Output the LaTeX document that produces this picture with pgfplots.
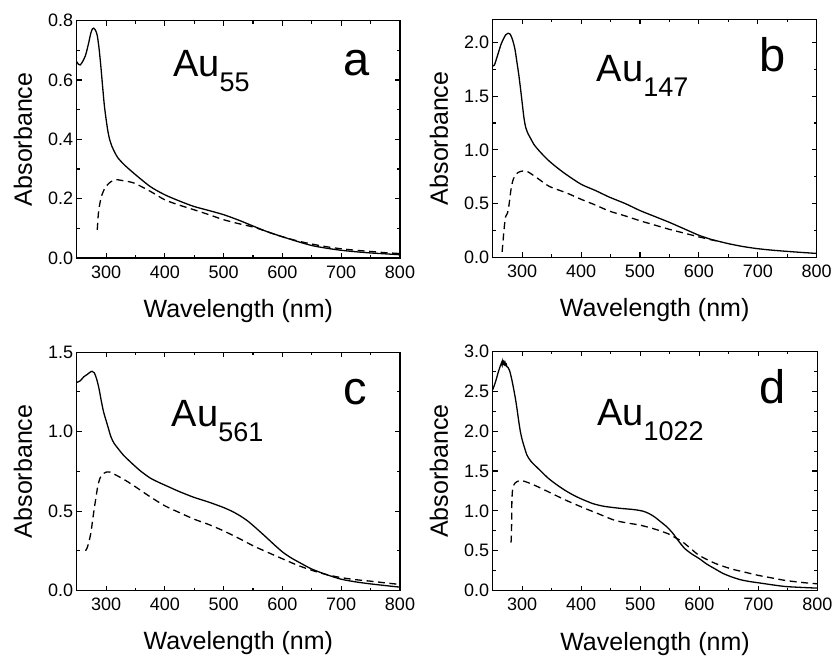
\documentclass[border=0pt]{standalone}
\usepackage{pgfplots}
\pgfplotsset{compat=1.18}
\usepackage{fontspec}
\setmainfont{Liberation Sans}

% tick numbers in the text font
\pgfkeys{/pgf/number format/assume math mode=true}

\pgfplotsset{
  uvpanel/.style={
    scale only axis, anchor=south west,
    xmin=250, xmax=800, ymin=0,
    xtick={300,400,...,800},
    minor x tick num=1, minor y tick num=1,
    xtick pos=both, ytick pos=both,
    xticklabel pos=lower, yticklabel pos=left,
    axis line style={line width=1.3pt},
    every tick/.style={black, line width=1.1pt},
    major tick length=5pt, minor tick length=3pt,
    tick align=inside,
    tick label style={font=\fontsize{18}{18}\selectfont},
    xticklabel style={yshift=-4pt},
    yticklabel style={/pgf/number format/fixed, /pgf/number format/fixed zerofill,
      /pgf/number format/precision=1},
    xlabel={Wavelength (nm)},
    ylabel={Absorbance},
    xlabel style={at={(axis description cs:0.5,-0.249)}, anchor=base,
      font=\fontsize{25}{25}\selectfont, inner sep=0pt},
    ylabel style={at={(axis description cs:-0.166,0.5)}, anchor=center,
      font=\fontsize{25}{25}\selectfont, inner sep=0pt},
    no markers,
    cycle list={{black,solid},{black,dash pattern=on 7pt off 4.5pt}},
    every axis plot/.append style={line width=1.3pt, smooth, tension=0.45},
  },
}
\newcommand{\cluster}[1]{Au\raisebox{-15pt}{\fontsize{27}{27}\selectfont #1}}
\newcommand{\panelfont}{\fontsize{38}{38}\selectfont}
\newcommand{\letterfont}{\fontsize{47}{47}\selectfont}

\begin{document}
\begin{tikzpicture}

% (a) Au55
\begin{axis}[uvpanel, at={(76.7pt,398pt)}, width=323.3pt, height=237.3pt,
  ymax=0.8, ytick={0,0.2,...,0.8}]
\addplot coordinates {(250,0.662)(253,0.653)(256,0.651)(260,0.662)(265,0.683)(270,0.722)(274,0.758)(277,0.773)(279,0.775)(282,0.768)(285,0.750)(288,0.707)(291,0.648)(294,0.580)(297,0.515)(300,0.468)(303,0.428)(306,0.400)(310,0.376)(315,0.355)(320,0.338)(330,0.316)(347,0.286)(375,0.241)(400,0.213)(425,0.192)(449,0.174)(475,0.160)(500,0.146)(525,0.128)(551,0.107)(575,0.088)(601,0.071)(625,0.056)(650,0.042)(675,0.033)(700,0.026)(725,0.021)(750,0.017)(775,0.014)(800,0.011)};
\addplot coordinates {(285,0.095)(287,0.152)(290,0.190)(293,0.213)(297,0.232)(302,0.246)(308,0.257)(316,0.264)(325,0.262)(347,0.253)(375,0.225)(400,0.196)(425,0.178)(449,0.163)(475,0.146)(500,0.129)(525,0.116)(551,0.104)(575,0.088)(601,0.071)(625,0.058)(650,0.047)(675,0.038)(700,0.031)(725,0.026)(750,0.022)(775,0.018)(800,0.015)};
\node[anchor=base west, inner sep=0pt, font=\panelfont] at (rel axis cs:0.298,0.763) {\cluster{55}};
\node[anchor=base, inner sep=0pt, font=\letterfont] at (rel axis cs:0.866,0.771) {a};
\end{axis}

% (b) Au147
\begin{axis}[uvpanel, at={(492.7pt,398.7pt)}, width=324pt, height=238pt,
  ymax=2.215, ytick={0,0.5,...,2.0}]
\addplot coordinates {(250,1.78)(253,1.79)(256,1.84)(260,1.91)(264,1.98)(268,2.03)(272,2.07)(276,2.085)(279,2.08)(282,2.05)(285,2.00)(288,1.93)(291,1.82)(294,1.71)(297,1.58)(300,1.44)(303,1.30)(306,1.21)(310,1.15)(315,1.10)(320,1.05)(329,0.99)(343,0.91)(358,0.84)(375,0.77)(400,0.68)(425,0.62)(448,0.56)(475,0.50)(500,0.435)(525,0.38)(550,0.325)(575,0.265)(600,0.205)(620,0.168)(635,0.147)(650,0.127)(675,0.10)(700,0.08)(725,0.066)(750,0.055)(775,0.045)(800,0.036)};
\addplot coordinates {(266,0.05)(268,0.18)(270,0.30)(272,0.38)(275,0.41)(278,0.50)(281,0.63)(284,0.71)(287,0.75)(292,0.785)(298,0.80)(304,0.805)(310,0.795)(325,0.74)(346,0.66)(375,0.60)(400,0.54)(425,0.485)(448,0.43)(475,0.385)(500,0.34)(525,0.30)(550,0.26)(575,0.225)(600,0.19)(620,0.164)(638,0.143)};
\node[anchor=base west, inner sep=0pt, font=\panelfont] at (rel axis cs:0.321,0.738) {\cluster{147}};
\node[anchor=base, inner sep=0pt, font=\letterfont] at (rel axis cs:0.864,0.78) {b};
\end{axis}

% (c) Au561
\begin{axis}[uvpanel, at={(76.7pt,65.5pt)}, width=323.3pt, height=238.3pt,
  ymax=1.5, ytick={0,0.5,...,1.5}]
\addplot coordinates {(250,1.31)(256,1.32)(262,1.345)(268,1.36)(273,1.375)(276,1.38)(280,1.37)(284,1.33)(288,1.27)(292,1.19)(296,1.12)(300,1.07)(304,1.02)(308,0.97)(313,0.93)(319,0.90)(330,0.85)(347,0.79)(360,0.748)(375,0.708)(390,0.680)(405,0.655)(425,0.622)(449,0.587)(475,0.556)(500,0.522)(515,0.497)(528,0.47)(540,0.44)(551,0.406)(562,0.37)(573,0.333)(587,0.285)(601,0.240)(615,0.205)(630,0.174)(650,0.135)(675,0.10)(700,0.071)(725,0.054)(749,0.042)(775,0.031)(800,0.021)};
\addplot coordinates {(265,0.25)(268,0.27)(271,0.31)(274,0.36)(277,0.44)(280,0.52)(283,0.59)(286,0.66)(290,0.71)(295,0.735)(300,0.745)(307,0.745)(315,0.73)(330,0.70)(347,0.66)(375,0.59)(400,0.533)(425,0.49)(449,0.45)(475,0.415)(500,0.375)(525,0.33)(551,0.28)(575,0.24)(601,0.198)(625,0.16)(650,0.127)(675,0.10)(700,0.081)(725,0.068)(749,0.059)(775,0.048)(800,0.038)};
\node[anchor=base west, inner sep=0pt, font=\panelfont] at (rel axis cs:0.294,0.689) {\cluster{561}};
\node[anchor=base, inner sep=0pt, font=\letterfont] at (rel axis cs:0.863,0.78) {c};
\end{axis}

% (d) Au1022
\begin{axis}[uvpanel, at={(492.7pt,65.5pt)}, width=324.6pt, height=239pt,
  ymax=3.0, ytick={0,0.5,...,3.0}]
\addplot coordinates {(250,2.52)(253,2.58)(256,2.65)(259,2.73)(262,2.80)(264,2.84)(265,2.86)(266,2.83)(267,2.88)(268,2.85)(269,2.87)(270,2.84)(271,2.86)(272,2.83)(273,2.84)(274,2.81)(276,2.80)(279,2.75)(282,2.66)(285,2.55)(288,2.43)(291,2.29)(294,2.13)(297,1.99)(300,1.89)(304,1.79)(308,1.70)(315,1.62)(330,1.51)(344,1.41)(358,1.33)(372,1.26)(386,1.20)(400,1.15)(420,1.09)(440,1.055)(468,1.03)(490,1.015)(505,0.995)(515,0.965)(525,0.92)(535,0.86)(545,0.80)(555,0.72)(565,0.62)(575,0.53)(587,0.46)(600,0.40)(613,0.33)(627,0.27)(640,0.215)(655,0.17)(670,0.135)(685,0.113)(700,0.097)(725,0.07)(746,0.05)(775,0.038)(800,0.03)};
\addplot coordinates {(281,0.60)(281.5,0.66)(282,0.80)(282.3,1.00)(282.6,1.15)(283.5,1.25)(285,1.31)(288,1.35)(292,1.37)(298,1.38)(304,1.37)(315,1.34)(330,1.29)(344,1.24)(372,1.14)(400,1.05)(430,0.96)(457,0.88)(480,0.845)(500,0.82)(525,0.77)(548,0.71)(560,0.66)(570,0.62)(585,0.53)(600,0.44)(627,0.34)(655,0.27)(680,0.225)(700,0.19)(725,0.155)(746,0.126)(775,0.10)(800,0.084)};
\node[anchor=base west, inner sep=0pt, font=\panelfont] at (rel axis cs:0.321,0.69) {\cluster{1022}};
\node[anchor=base, inner sep=0pt, font=\letterfont] at (rel axis cs:0.863,0.781) {d};
\end{axis}

% fix the page to the full figure area
\pgfresetboundingbox
\path[use as bounding box] (0,0) rectangle (835pt,656pt);
\end{tikzpicture}
\end{document}
